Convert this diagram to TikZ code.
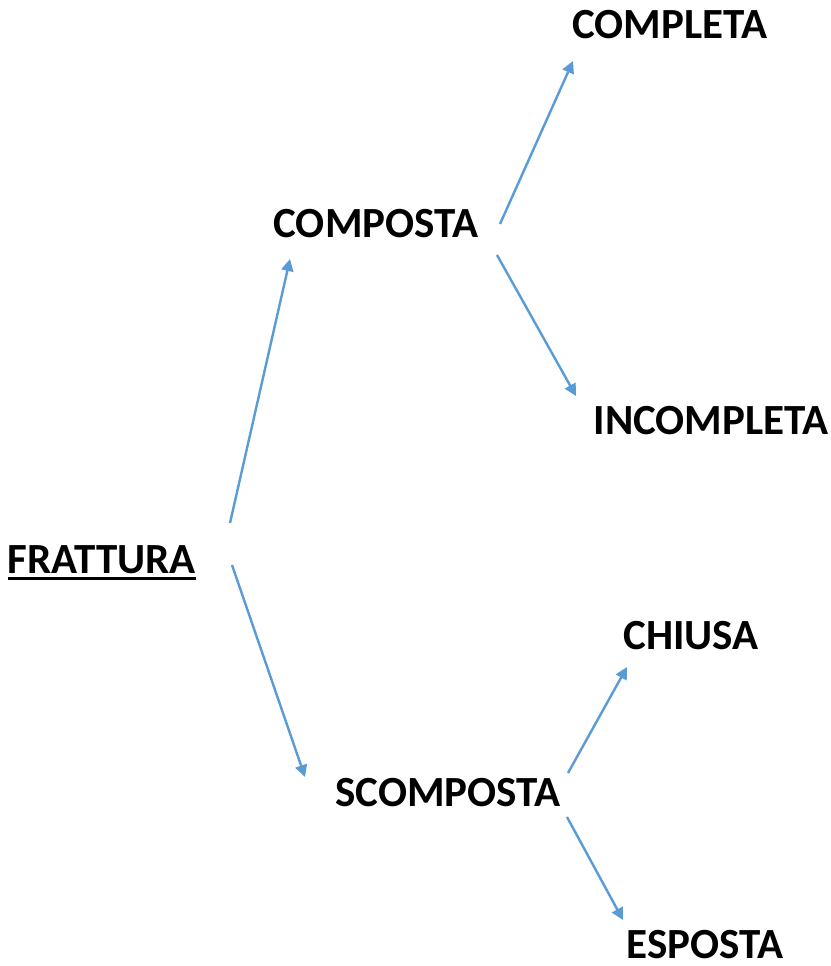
\documentclass[tikz,border=0pt]{standalone}
\usepackage{fontspec}
\setmainfont{Carlito}
\usetikzlibrary{arrows.meta}
\definecolor{arrowblue}{HTML}{5B9BD5}
\tikzset{
  lbl/.style={inner sep=0pt, anchor=base, font=\fontsize{43}{50}\selectfont\bfseries, text=black},
  conn/.style={draw=arrowblue, line width=2.4pt, -{Triangle[length=12pt,width=12pt]}}
}
\begin{document}
\begin{tikzpicture}[x=1pt,y=-1pt]
\useasboundingbox[fill=white] (0,0) rectangle (830,966);
\node[lbl] (frattura) at (102,573) {FRATTURA};
\node[lbl] (composta) at (376,237) {COMPOSTA};
\node[lbl] (scomposta) at (448,806) {SCOMPOSTA};
\node[lbl] (completa) at (670,39) {COMPLETA};
\node[lbl] (incompleta) at (711,434) {INCOMPLETA};
\node[lbl] (chiusa) at (691,649) {CHIUSA};
\node[lbl] (esposta) at (705,958) {ESPOSTA};
\draw[line width=2.8pt] ([yshift=-5.5pt]frattura.base west) -- ([yshift=-5.5pt]frattura.base east);
% connector ends
\coordinate (f1) at (230,523);
\coordinate (f2) at (232,565);
\coordinate (c0) at (290,259);
\coordinate (s0) at (305,777);
\coordinate (c1) at (500,224);
\coordinate (c2) at (497,255);
\coordinate (cl) at (573,61);
\coordinate (ic) at (576,396);
\coordinate (s1) at (568,773);
\coordinate (s2) at (567,817);
\coordinate (ch) at (627,667);
\coordinate (es) at (623,920);
\draw[conn] (f1) -- (c0);
\draw[conn] (f2) -- (s0);
\draw[conn] (c1) -- (cl);
\draw[conn] (c2) -- (ic);
\draw[conn] (s1) -- (ch);
\draw[conn] (s2) -- (es);
\end{tikzpicture}
\end{document}
